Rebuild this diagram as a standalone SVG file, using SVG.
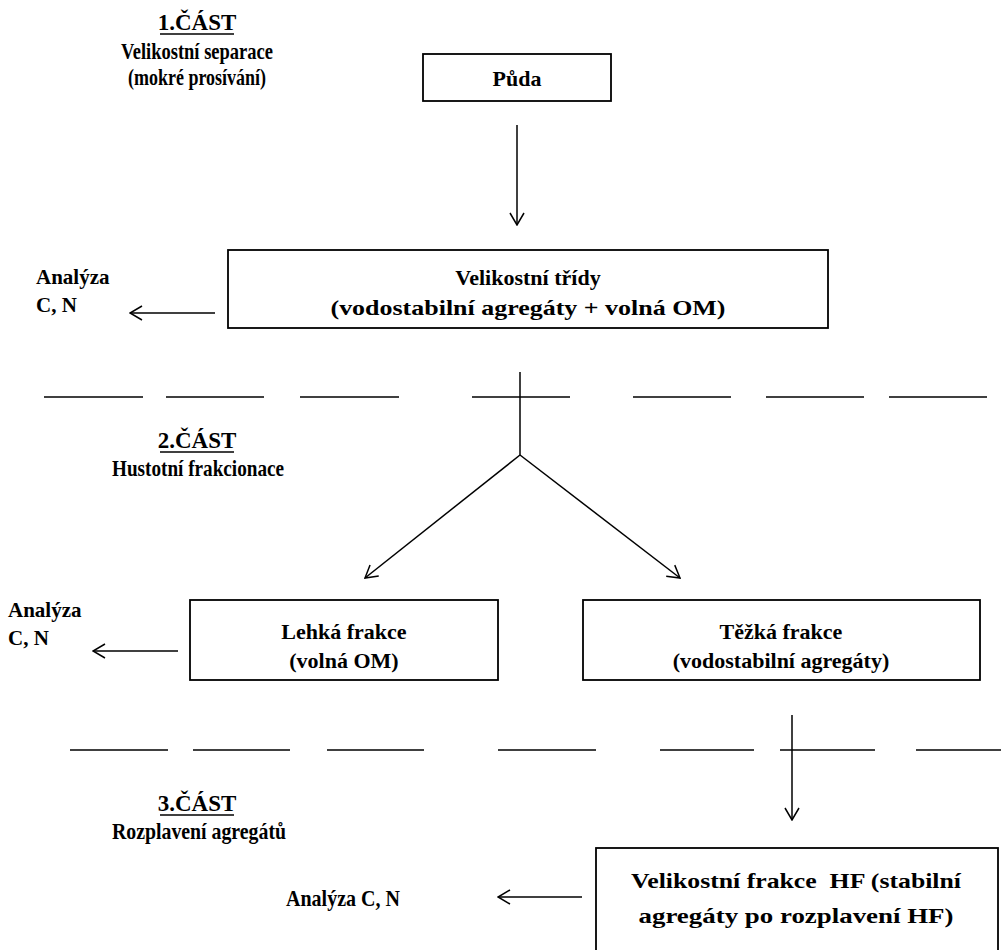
<svg xmlns="http://www.w3.org/2000/svg" width="1001" height="950" viewBox="0 0 1001 950">
<style>
text{font-family:"Liberation Serif","Times New Roman",serif;font-weight:700;font-size:22px;fill:#000}
.c{text-anchor:middle}
.h{font-size:23px}
.s{font-size:23px}
.lab{font-size:21px}
.box{fill:#fff;stroke:#000;stroke-width:1.8}
.ln{stroke:#000;stroke-width:1.5;fill:none}
.dash{stroke:#000;stroke-width:1.5}
.ul{stroke:#000;stroke-width:1.5}
</style>
<defs>
<marker id="ah" viewBox="0 0 14 16" refX="13" refY="8" markerWidth="14" markerHeight="16" markerUnits="userSpaceOnUse" orient="auto">
<path d="M1,1 L13,8 L1,15" fill="none" stroke="#000" stroke-width="1.5"/>
</marker>
</defs>
<rect width="1001" height="950" fill="#fff"/>

<g id="part1">
<text class="c h" x="197" y="30">1.ČÁST</text>
<line class="ul" x1="160" y1="34" x2="234" y2="34"/>
<text class="c s" x="197" y="59" textLength="152" lengthAdjust="spacingAndGlyphs">Velikostní separace</text>
<text class="c s" x="197" y="85" textLength="138" lengthAdjust="spacingAndGlyphs">(mokré prosívání)</text>
</g>
<g id="part2">
<text class="c h" x="197" y="448">2.ČÁST</text>
<line class="ul" x1="160" y1="452" x2="234" y2="452"/>
<text class="c s" x="198" y="476" textLength="172" lengthAdjust="spacingAndGlyphs">Hustotní frakcionace</text>
</g>
<g id="part3">
<text class="c h" x="197" y="811">3.ČÁST</text>
<line class="ul" x1="160" y1="815" x2="234" y2="815"/>
<text class="c s" x="199" y="839" textLength="174" lengthAdjust="spacingAndGlyphs">Rozplavení agregátů</text>
</g>

<g id="puda">
<rect class="box" x="423" y="54" width="188" height="47"/>
<text class="c" x="517" y="86">Půda</text>
</g>
<g id="velikostni-tridy">
<rect class="box" x="228" y="250" width="600" height="78"/>
<text class="c" x="528" y="285">Velikostní třídy</text>
<text class="c" x="528" y="315" textLength="395" lengthAdjust="spacingAndGlyphs">(vodostabilní agregáty + volná OM)</text>
</g>
<g id="analyza1">
<text class="lab" x="36" y="284">Analýza</text>
<text class="lab" x="36" y="312">C, N</text>
</g>
<g id="lehka">
<rect class="box" x="190" y="600" width="308" height="80"/>
<text class="c" x="344" y="639">Lehká frakce</text>
<text class="c" x="344" y="668">(volná OM)</text>
</g>
<g id="tezka">
<rect class="box" x="583" y="600" width="397" height="80"/>
<text class="c" x="781" y="639">Těžká frakce</text>
<text class="c" x="781" y="668">(vodostabilní agregáty)</text>
</g>
<g id="analyza2">
<text class="lab" x="8" y="617">Analýza</text>
<text class="lab" x="8" y="645">C, N</text>
</g>
<g id="hf">
<rect class="box" x="596" y="848" width="402" height="110"/>
<text class="c" x="796" y="888" style="white-space:pre" textLength="330" lengthAdjust="spacingAndGlyphs">Velikostní frakce  HF (stabilní</text>
<text class="c" x="796" y="923" textLength="315" lengthAdjust="spacingAndGlyphs">agregáty po rozplavení HF)</text>
</g>
<g id="analyza3">
<text class="c s" x="343" y="906" textLength="114" lengthAdjust="spacingAndGlyphs">Analýza C, N</text>
</g>

<g id="separators">
<line class="dash" x1="44" y1="397" x2="143" y2="397"/>
<line class="dash" x1="166" y1="397" x2="264" y2="397"/>
<line class="dash" x1="300" y1="397" x2="399" y2="397"/>
<line class="dash" x1="472" y1="397" x2="570" y2="397"/>
<line class="dash" x1="633" y1="397" x2="731" y2="397"/>
<line class="dash" x1="766" y1="397" x2="864" y2="397"/>
<line class="dash" x1="889" y1="397" x2="987" y2="397"/>
<line class="dash" x1="70" y1="750" x2="168" y2="750"/>
<line class="dash" x1="193" y1="750" x2="290" y2="750"/>
<line class="dash" x1="327" y1="750" x2="424" y2="750"/>
<line class="dash" x1="498" y1="750" x2="596" y2="750"/>
<line class="dash" x1="660" y1="750" x2="754" y2="750"/>
<line class="dash" x1="780" y1="750" x2="875" y2="750"/>
<line class="dash" x1="916" y1="750" x2="1001" y2="750"/>
</g>

<g id="connectors">
<line class="ln" x1="517" y1="125" x2="517" y2="225" marker-end="url(#ah)"/>
<line class="ln" x1="215" y1="313" x2="130" y2="313" marker-end="url(#ah)"/>
<polyline class="ln" points="520,372 520,455"/>
<line class="ln" x1="520" y1="455" x2="365" y2="578" marker-end="url(#ah)"/>
<line class="ln" x1="520" y1="455" x2="680" y2="578" marker-end="url(#ah)"/>
<line class="ln" x1="178" y1="651" x2="93" y2="651" marker-end="url(#ah)"/>
<line class="ln" x1="792" y1="715" x2="792" y2="820" marker-end="url(#ah)"/>
<line class="ln" x1="582" y1="897" x2="498" y2="897" marker-end="url(#ah)"/>
</g>
</svg>
